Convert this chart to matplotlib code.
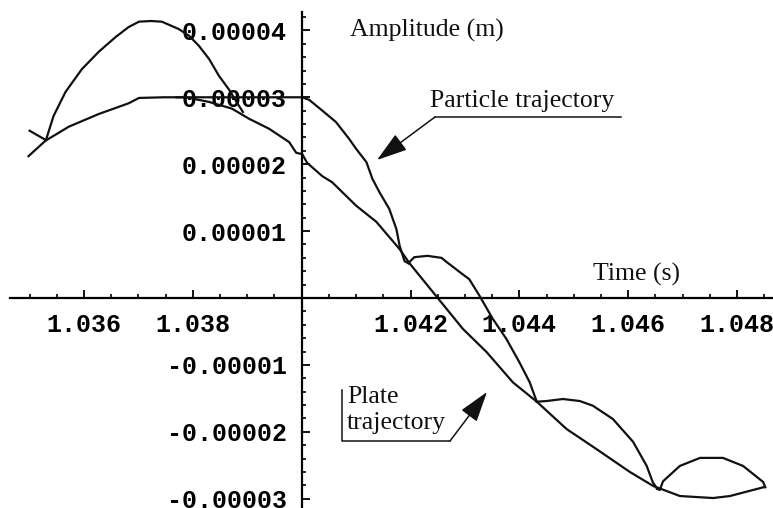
import matplotlib
matplotlib.use("Agg")
import matplotlib.pyplot as plt

# values (time in s, amplitude in units of 1e-5 m)
plate_t = [1.03498, 1.03529, 1.03572, 1.03627, 1.03682, 1.03701, 1.03747, 1.03787,
           1.03830, 1.03872, 1.03903, 1.03940, 1.03977, 1.03990, 1.04001, 1.04010,
           1.04038, 1.04056, 1.04100, 1.04137, 1.04180, 1.04198, 1.04250, 1.04296,
           1.04340, 1.04388, 1.04432, 1.04487, 1.04542, 1.04603, 1.04646, 1.04695,
           1.04756, 1.04787, 1.04848]
plate_a = [2.12, 2.35, 2.56, 2.75, 2.91, 2.99, 3.00, 3.00,
           2.93, 2.83, 2.68, 2.53, 2.33, 2.17, 2.15, 2.02,
           1.82, 1.73, 1.38, 1.14, 0.73, 0.52, 0.00, -0.46,
           -0.81, -1.26, -1.55, -1.96, -2.26, -2.60, -2.81, -2.96,
           -2.99, -2.96, -2.83]

# particle: flight arcs between impacts
tail_t = [1.03500, 1.03530]
tail_a = [2.50, 2.36]
arc1_t = [1.03530, 1.03544, 1.03566, 1.03596, 1.03627, 1.03658, 1.03682, 1.03701, 1.03723,
          1.03743, 1.03774, 1.03793, 1.03811, 1.03830, 1.03848, 1.03866, 1.03885, 1.03892]
arc1_a = [2.36, 2.72, 3.08, 3.42, 3.68, 3.90, 4.05, 4.13, 4.14,
          4.13, 4.02, 3.92, 3.77, 3.57, 3.32, 3.12, 2.87, 2.78]
arc2_t = [1.03770, 1.04001, 1.04014, 1.04038, 1.04063, 1.04087, 1.04100, 1.04119,
          1.04130, 1.04143, 1.04161, 1.04174, 1.04180, 1.04189, 1.04196]
arc2_a = [3.00, 3.00, 2.96, 2.80, 2.63, 2.38, 2.23, 2.03,
          1.78, 1.58, 1.33, 1.03, 0.78, 0.55, 0.52]
arc3_t = [1.04196, 1.04202, 1.04207, 1.04231, 1.04257, 1.04266, 1.04290, 1.04308,
          1.04327, 1.04351, 1.04376, 1.04400, 1.04419, 1.04432]
arc3_a = [0.52, 0.57, 0.61, 0.63, 0.60, 0.54, 0.39, 0.28,
          0.03, -0.31, -0.61, -0.96, -1.26, -1.55]
arc4_t = [1.04432, 1.04450, 1.04480, 1.04511, 1.04535, 1.04572, 1.04609, 1.04634, 1.04645, 1.04653]
arc4_a = [-1.55, -1.54, -1.51, -1.54, -1.61, -1.81, -2.15, -2.51, -2.75, -2.85]
arc5_t = [1.04653, 1.04658, 1.04664, 1.04695, 1.04732, 1.04774, 1.04811, 1.04848, 1.04852]
arc5_a = [-2.85, -2.87, -2.74, -2.51, -2.39, -2.39, -2.51, -2.75, -2.83]

x_major = [1.036, 1.038, 1.042, 1.044, 1.046, 1.048]
x_labels = ["1.036", "1.038", "1.042", "1.044", "1.046", "1.048"]
y_major = [-3e-5, -2e-5, -1e-5, 1e-5, 2e-5, 3e-5, 4e-5]
y_labels = ["-0.00003", "-0.00002", "-0.00001", "0.00001", "0.00002", "0.00003", "0.00004"]

W, H = 773, 508
fig = plt.figure(figsize=(W / 100, H / 100), dpi=100)
ax = fig.add_axes([0, 0, 1, 1])
ax.set_xlim(1.034456, 1.048661)
ax.set_ylim(-3.139e-5, 4.454e-5)

ink = "#111111"
sc = 1e-5
ax.plot(plate_t, [v * sc for v in plate_a], color=ink, lw=1.6)
for tt, aa in [(tail_t, tail_a), (arc1_t, arc1_a), (arc2_t, arc2_a),
               (arc3_t, arc3_a), (arc4_t, arc4_a), (arc5_t, arc5_a)]:
    ax.plot(tt, [v * sc for v in aa], color=ink, lw=1.6)

# axes crossing at (1.040, 0), Mathematica style
for s in ["top", "right"]:
    ax.spines[s].set_visible(False)
ax.spines["left"].set_position(("data", 1.040))
ax.spines["bottom"].set_position(("data", 0))
ax.spines["left"].set_bounds(-3.139e-5, 4.275e-5)
ax.spines["bottom"].set_bounds(1.03464, 1.048661)
ax.spines["left"].set_linewidth(1.6)
ax.spines["bottom"].set_linewidth(1.6)

mono = dict(fontfamily="Liberation Mono", fontweight="bold", fontsize=18)
ax.set_xticks(x_major)
ax.set_xticklabels(x_labels, **mono)
ax.set_xticks([1.035 + 0.0005 * i for i in range(28)], minor=True)
ax.set_yticks(y_major)
ax.set_yticklabels(y_labels, **mono)
ax.set_yticks([-3e-5 + 2e-6 * i for i in range(37)], minor=True)
ax.tick_params(which="major", direction="in", length=5.5, width=1.3)
ax.tick_params(which="minor", direction="in", length=3, width=1.2)
ax.tick_params(axis="x", which="major", pad=11)
ax.tick_params(axis="y", which="major", pad=10.5)


def fx(x, y):
    return (x / W, 1 - y / H)


serif = dict(fontfamily="Liberation Serif", fontsize=18.5, color=ink, va="center", ha="left")
fig.text(*fx(350, 30), "Amplitude (m)", **serif)
fig.text(*fx(593, 274), "Time (s)", **serif)
fig.text(*fx(430, 101), "Particle trajectory", **serif)
fig.text(*fx(347, 397), "Plate", **serif)
fig.text(*fx(347, 423), "trajectory", **serif)

# leader lines
ax.plot([435 / W, 621 / W], [1 - 117 / H, 1 - 117 / H], color=ink, lw=1.1, transform=fig.transFigure)
ax.plot([342 / W, 342 / W, 450 / W], [1 - 390 / H, 1 - 441 / H, 1 - 441 / H], color=ink, lw=1.1,
        transform=fig.transFigure)
arrow = dict(arrowstyle="-|>,head_length=0.95,head_width=0.3", mutation_scale=20,
             color=ink, lw=1.1, shrinkA=0, shrinkB=0)
ax.annotate("", xy=fx(377, 160), xytext=fx(435, 117), xycoords="figure fraction",
            textcoords="figure fraction", arrowprops=arrow)
ax.annotate("", xy=fx(487, 392), xytext=fx(450, 441), xycoords="figure fraction",
            textcoords="figure fraction", arrowprops=arrow)

fig.savefig("out.png", dpi=100)
